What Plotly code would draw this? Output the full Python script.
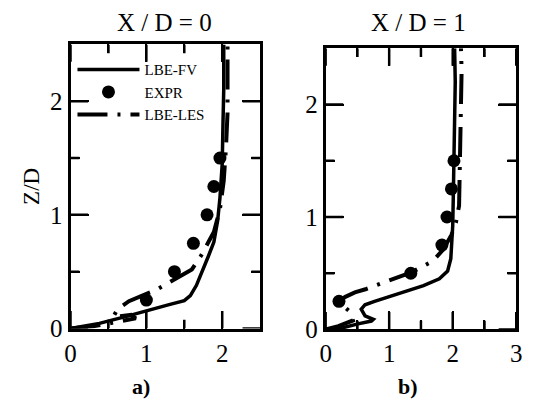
import plotly.graph_objects as go

# Vertical profiles of streamwise velocity at two stations
# X/D = 0
fv0_u = [0, 0.2, 0.38, 0.7, 0.98, 1.3, 1.5, 1.58, 1.66, 1.75, 1.82, 1.89, 1.94, 1.97, 2.0, 2.01, 2.02, 2.02]
fv0_z = [0, 0.02, 0.045, 0.1, 0.155, 0.21, 0.245, 0.29, 0.38, 0.52, 0.64, 0.76, 0.95, 1.15, 1.45, 1.8, 2.1, 2.5]

les0_u = [0, 0.3, 0.55, 0.86, 0.8, 0.56, 0.62, 0.77, 1.13, 1.28, 1.6, 1.72, 1.89, 1.97, 2.02, 2.05, 2.07, 2.07, 2.07]
les0_z = [0, 0.02, 0.05, 0.09, 0.12, 0.1, 0.17, 0.24, 0.34, 0.40, 0.52, 0.64, 0.85, 1.05, 1.3, 1.6, 1.9, 2.2, 2.5]

exp0_u = [1.0, 1.37, 1.62, 1.80, 1.89, 1.97]
exp0_z = [0.25, 0.50, 0.75, 1.00, 1.25, 1.50]

# X/D = 1
fv1_u = [0, 0.3, 0.51, 0.72, 0.75, 0.62, 0.56, 0.62, 0.77, 1.03, 1.54, 1.79, 1.92, 1.97, 2.0, 2.01, 2.02, 2.04, 2.04, 2.03]
fv1_z = [0, 0.02, 0.05, 0.075, 0.09, 0.12, 0.18, 0.22, 0.25, 0.30, 0.39, 0.45, 0.52, 0.63, 0.92, 1.2, 1.5, 1.9, 2.2, 2.5]

les1_u = [0, 0.2, 0.43, 0.38, 0.26, 0.24, 0.31, 0.46, 0.64, 1.08, 1.36, 1.69, 1.85, 1.98, 2.05, 2.1, 2.12, 2.13, 2.14, 2.13]
les1_z = [0, 0.03, 0.08, 0.16, 0.22, 0.265, 0.29, 0.33, 0.36, 0.45, 0.51, 0.61, 0.71, 0.84, 0.95, 1.1, 1.5, 2.0, 2.3, 2.5]

exp1_u = [0.21, 1.34, 1.83, 1.91, 1.98, 2.02]
exp1_z = [0.25, 0.50, 0.75, 1.00, 1.25, 1.50]

# Axis ranges and tick positions
u_range_0 = [0, 2.5]
u_range_1 = [0, 3]
z_range = [0, 2.5]
major_u0 = [0, 1, 2]
major_u1 = [0, 1, 2, 3]
major_z = [0, 1, 2]
minor_u0 = [0.5, 1.5]
minor_u1 = [0.5, 1.5, 2.5]
minor_z = [0.5, 1.5]

W, H = 533, 414
SERIF = "Liberation Serif"
LES_DASH = "30px,10px,3px,10px"
MAJOR_LEN, MINOR_LEN = 18, 9

# panel domains (paper fractions; margins are zero so paper == plot area)
dx0 = [66 / W, 260 / W]
dy0 = [1 - 340 / H, 1 - 46 / H]
dx1 = [327 / W, 522 / W]
dy1 = [1 - 341 / H, 1 - 50 / H]

fig = go.Figure()

panels = [
    ("x", "y", fv0_u, fv0_z, les0_u, les0_z, exp0_u, exp0_z, True),
    ("x2", "y2", fv1_u, fv1_z, les1_u, les1_z, exp1_u, exp1_z, False),
]
for xa, ya, fu, fz, lu, lz, eu, ez, show in panels:
    fig.add_trace(go.Scatter(x=fu, y=fz, xaxis=xa, yaxis=ya, mode="lines",
                             name="LBE-FV", legendrank=1, showlegend=show,
                             line=dict(color="black", width=3.5)))
    fig.add_trace(go.Scatter(x=lu, y=lz, xaxis=xa, yaxis=ya, mode="lines",
                             name="LBE-LES", legendrank=3, showlegend=show,
                             line=dict(color="black", width=4, dash=LES_DASH)))
    fig.add_trace(go.Scatter(x=eu, y=ez, xaxis=xa, yaxis=ya, mode="markers",
                             name="EXPR", legendrank=2, showlegend=show,
                             marker=dict(color="black", size=13)))


# inward tick marks on all four sides of a panel, drawn as one line trace
def tick_trace(xa, ya, xr, yr, dx, dy, xmaj, xmin, ymaj, ymin):
    per_px_x = (xr[1] - xr[0]) / ((dx[1] - dx[0]) * W)
    per_px_y = (yr[1] - yr[0]) / ((dy[1] - dy[0]) * H)
    xs, ys = [], []
    for vals, ln in ((xmaj, MAJOR_LEN), (xmin, MINOR_LEN)):
        for v in vals:
            for edge, sgn in ((yr[0], 1), (yr[1], -1)):
                xs += [v, v, None]
                ys += [edge, edge + sgn * ln * per_px_y, None]
    for vals, ln in ((ymaj, MAJOR_LEN), (ymin, MINOR_LEN)):
        for v in vals:
            for edge, sgn in ((xr[0], 1), (xr[1], -1)):
                xs += [edge, edge + sgn * ln * per_px_x, None]
                ys += [v, v, None]
    return go.Scatter(x=xs, y=ys, xaxis=xa, yaxis=ya, mode="lines", showlegend=False,
                      cliponaxis=False, line=dict(color="black", width=2.5))


fig.add_trace(tick_trace("x", "y", u_range_0, z_range, dx0, dy0,
                         major_u0, minor_u0, major_z, minor_z))
fig.add_trace(tick_trace("x2", "y2", u_range_1, z_range, dx1, dy1,
                         major_u1, minor_u1, major_z, minor_z))


def axis(domain, rng, anchor, vals, minor_vals):
    return dict(
        domain=domain, range=rng, anchor=anchor,
        showline=True, linewidth=3, linecolor="black", mirror="ticks",
        ticks="inside", ticklen=MAJOR_LEN, tickwidth=2, tickcolor="black",
        tickmode="array", tickvals=vals,
        minor=dict(ticks="inside", ticklen=MINOR_LEN, tickwidth=2, tickcolor="black",
                   tickmode="array", tickvals=minor_vals, showgrid=False),
        showgrid=False, zeroline=False, layer="above traces",
        tickfont=dict(family=SERIF, size=25, color="black"),
    )


fig.update_layout(
    width=W, height=H,
    margin=dict(l=0, r=0, t=0, b=0),
    paper_bgcolor="white", plot_bgcolor="white",
    xaxis=axis(dx0, u_range_0, "y", major_u0, minor_u0),
    yaxis=axis(dy0, z_range, "x", major_z, minor_z),
    xaxis2=axis(dx1, u_range_1, "y2", major_u1, minor_u1),
    yaxis2=axis(dy1, z_range, "x2", major_z, minor_z),
    showlegend=True,
    legend=dict(x=68 / W, y=1 - 55 / H, xanchor="left", yanchor="top",
                bgcolor="rgba(0,0,0,0)", borderwidth=0,
                font=dict(family=SERIF, size=15, color="black"),
                itemwidth=62, tracegroupgap=0),
    annotations=[
        dict(text="X / D = 0", x=162 / W, y=1 - 23 / H, font_size=25),
        dict(text="X / D = 1", x=422 / W, y=1 - 23 / H, font_size=25),
        dict(text="Z/D", x=26 / W, y=1 - 193 / H, textangle=-90, font_size=23),
        dict(text="<b>a)</b>", x=138 / W, y=1 - 400 / H, font_size=22),
        dict(text="<b>b)</b>", x=411 / W, y=1 - 400 / H, font_size=22),
    ],
)
fig.update_annotations(xref="paper", yref="paper", xanchor="center", yanchor="middle",
                       showarrow=False, font_family=SERIF, font_color="black")

fig.write_html("out.html")
